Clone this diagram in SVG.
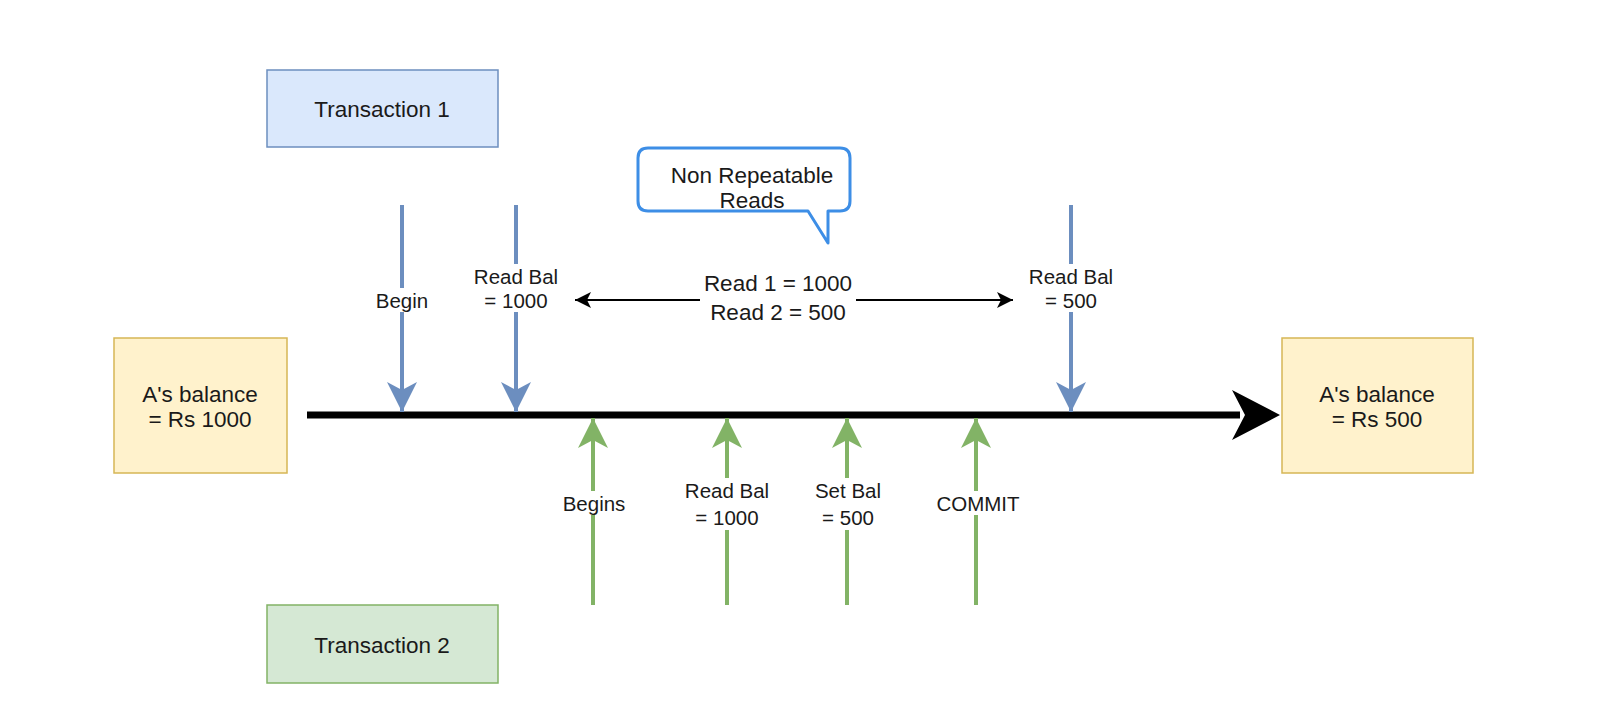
<svg xmlns="http://www.w3.org/2000/svg" width="1602" height="724" viewBox="0 0 1602 724">
<style>
text{font-family:"Liberation Sans",Arial,sans-serif;fill:#1a1a1a;text-anchor:middle;dominant-baseline:central}
.big{font-size:22.5px}
.lbl{font-size:20.5px}
.blue{stroke:#6c8ebf;stroke-width:4;fill:none}
.green{stroke:#82b366;stroke-width:4;fill:none}
.bg{fill:#ffffff}
</style>
<defs>
<marker id="hb" markerUnits="userSpaceOnUse" markerWidth="32" markerHeight="30" refX="30" refY="15" orient="auto" viewBox="0 0 32 30">
<path d="M30,15 L0,0 L8,15 L0,30 Z" fill="#6c8ebf"/>
</marker>
<marker id="hg" markerUnits="userSpaceOnUse" markerWidth="32" markerHeight="30" refX="30" refY="15" orient="auto" viewBox="0 0 32 30">
<path d="M30,15 L0,0 L8,15 L0,30 Z" fill="#82b366"/>
</marker>
<marker id="hk" markerUnits="userSpaceOnUse" markerWidth="18" markerHeight="18" refX="17" refY="9" orient="auto-start-reverse" viewBox="0 0 18 18">
<path d="M17,9 L1,1 L5,9 L1,17 Z" fill="#000"/>
</marker>
</defs>

<g id="connectors">
<!-- timeline -->
<line x1="307" y1="415" x2="1240" y2="415" stroke="#000" stroke-width="7"/>
<path d="M1280,415 L1232,390 L1245,415 L1232,440 Z" fill="#000"/>
<!-- blue arrows -->
<line class="blue" x1="402" y1="205" x2="402" y2="412" marker-end="url(#hb)"/>
<line class="blue" x1="516" y1="205" x2="516" y2="412" marker-end="url(#hb)"/>
<line class="blue" x1="1071" y1="205" x2="1071" y2="412" marker-end="url(#hb)"/>
<!-- green arrows -->
<line class="green" x1="593" y1="605" x2="593" y2="418" marker-end="url(#hg)"/>
<line class="green" x1="727" y1="605" x2="727" y2="418" marker-end="url(#hg)"/>
<line class="green" x1="847" y1="605" x2="847" y2="418" marker-end="url(#hg)"/>
<line class="green" x1="976" y1="605" x2="976" y2="418" marker-end="url(#hg)"/>
<!-- double arrow -->
<line x1="575" y1="300" x2="1013" y2="300" stroke="#000" stroke-width="2" marker-start="url(#hk)" marker-end="url(#hk)"/>

<!-- labels -->
<rect class="bg" x="372" y="288" width="60" height="24"/>
<text class="lbl" x="402" y="300">Begin</text>
<rect class="bg" x="472" y="264" width="88" height="48"/>
<text class="lbl" x="516" y="276">Read Bal</text>
<text class="lbl" x="516" y="300">= 1000</text>
<rect class="bg" x="1027" y="264" width="88" height="48"/>
<text class="lbl" x="1071" y="276">Read Bal</text>
<text class="lbl" x="1071" y="300">= 500</text>
<rect class="bg" x="700" y="268" width="156" height="58"/>
<text class="big" x="778" y="283">Read 1 = 1000</text>
<text class="big" x="778" y="312">Read 2 = 500</text>
<rect class="bg" x="561" y="491" width="64" height="24"/>
<text class="lbl" x="594" y="503">Begins</text>
<rect class="bg" x="683" y="478" width="88" height="52"/>
<text class="lbl" x="727" y="490">Read Bal</text>
<text class="lbl" x="727" y="517">= 1000</text>
<rect class="bg" x="811" y="478" width="72" height="52"/>
<text class="lbl" x="848" y="490">Set Bal</text>
<text class="lbl" x="848" y="517">= 500</text>
<rect class="bg" x="934" y="491" width="84" height="24"/>
<text class="lbl" x="978" y="503">COMMIT</text>
</g>

<g id="transaction1">
<rect x="267" y="70" width="231" height="77" fill="#dae8fc" stroke="#6c8ebf" stroke-width="1.5"/>
<text class="big" x="382" y="109">Transaction 1</text>
</g>
<g id="transaction2">
<rect x="267" y="605" width="231" height="78" fill="#d5e8d4" stroke="#82b366" stroke-width="1.5"/>
<text class="big" x="382" y="645">Transaction 2</text>
</g>
<g id="balance-start">
<rect x="114" y="338" width="173" height="135" fill="#fff2cc" stroke="#d6b656" stroke-width="1.5"/>
<text class="big" x="200" y="394">A's balance</text>
<text class="big" x="200" y="419">= Rs 1000</text>
</g>
<g id="balance-end">
<rect x="1282" y="338" width="191" height="135" fill="#fff2cc" stroke="#d6b656" stroke-width="1.5"/>
<text class="big" x="1377" y="394">A's balance</text>
<text class="big" x="1377" y="419">= Rs 500</text>
</g>
<g id="callout">
<path d="M648,148 H840 Q850,148 850,158 V201 Q850,211 840,211 H828 V243 L808,211 H648 Q638,211 638,201 V158 Q638,148 648,148 Z" fill="#ffffff" stroke="#3d8ee6" stroke-width="3" stroke-linejoin="round"/>
<text class="big" x="752" y="175">Non Repeatable</text>
<text class="big" x="752" y="200">Reads</text>
</g>
</svg>
